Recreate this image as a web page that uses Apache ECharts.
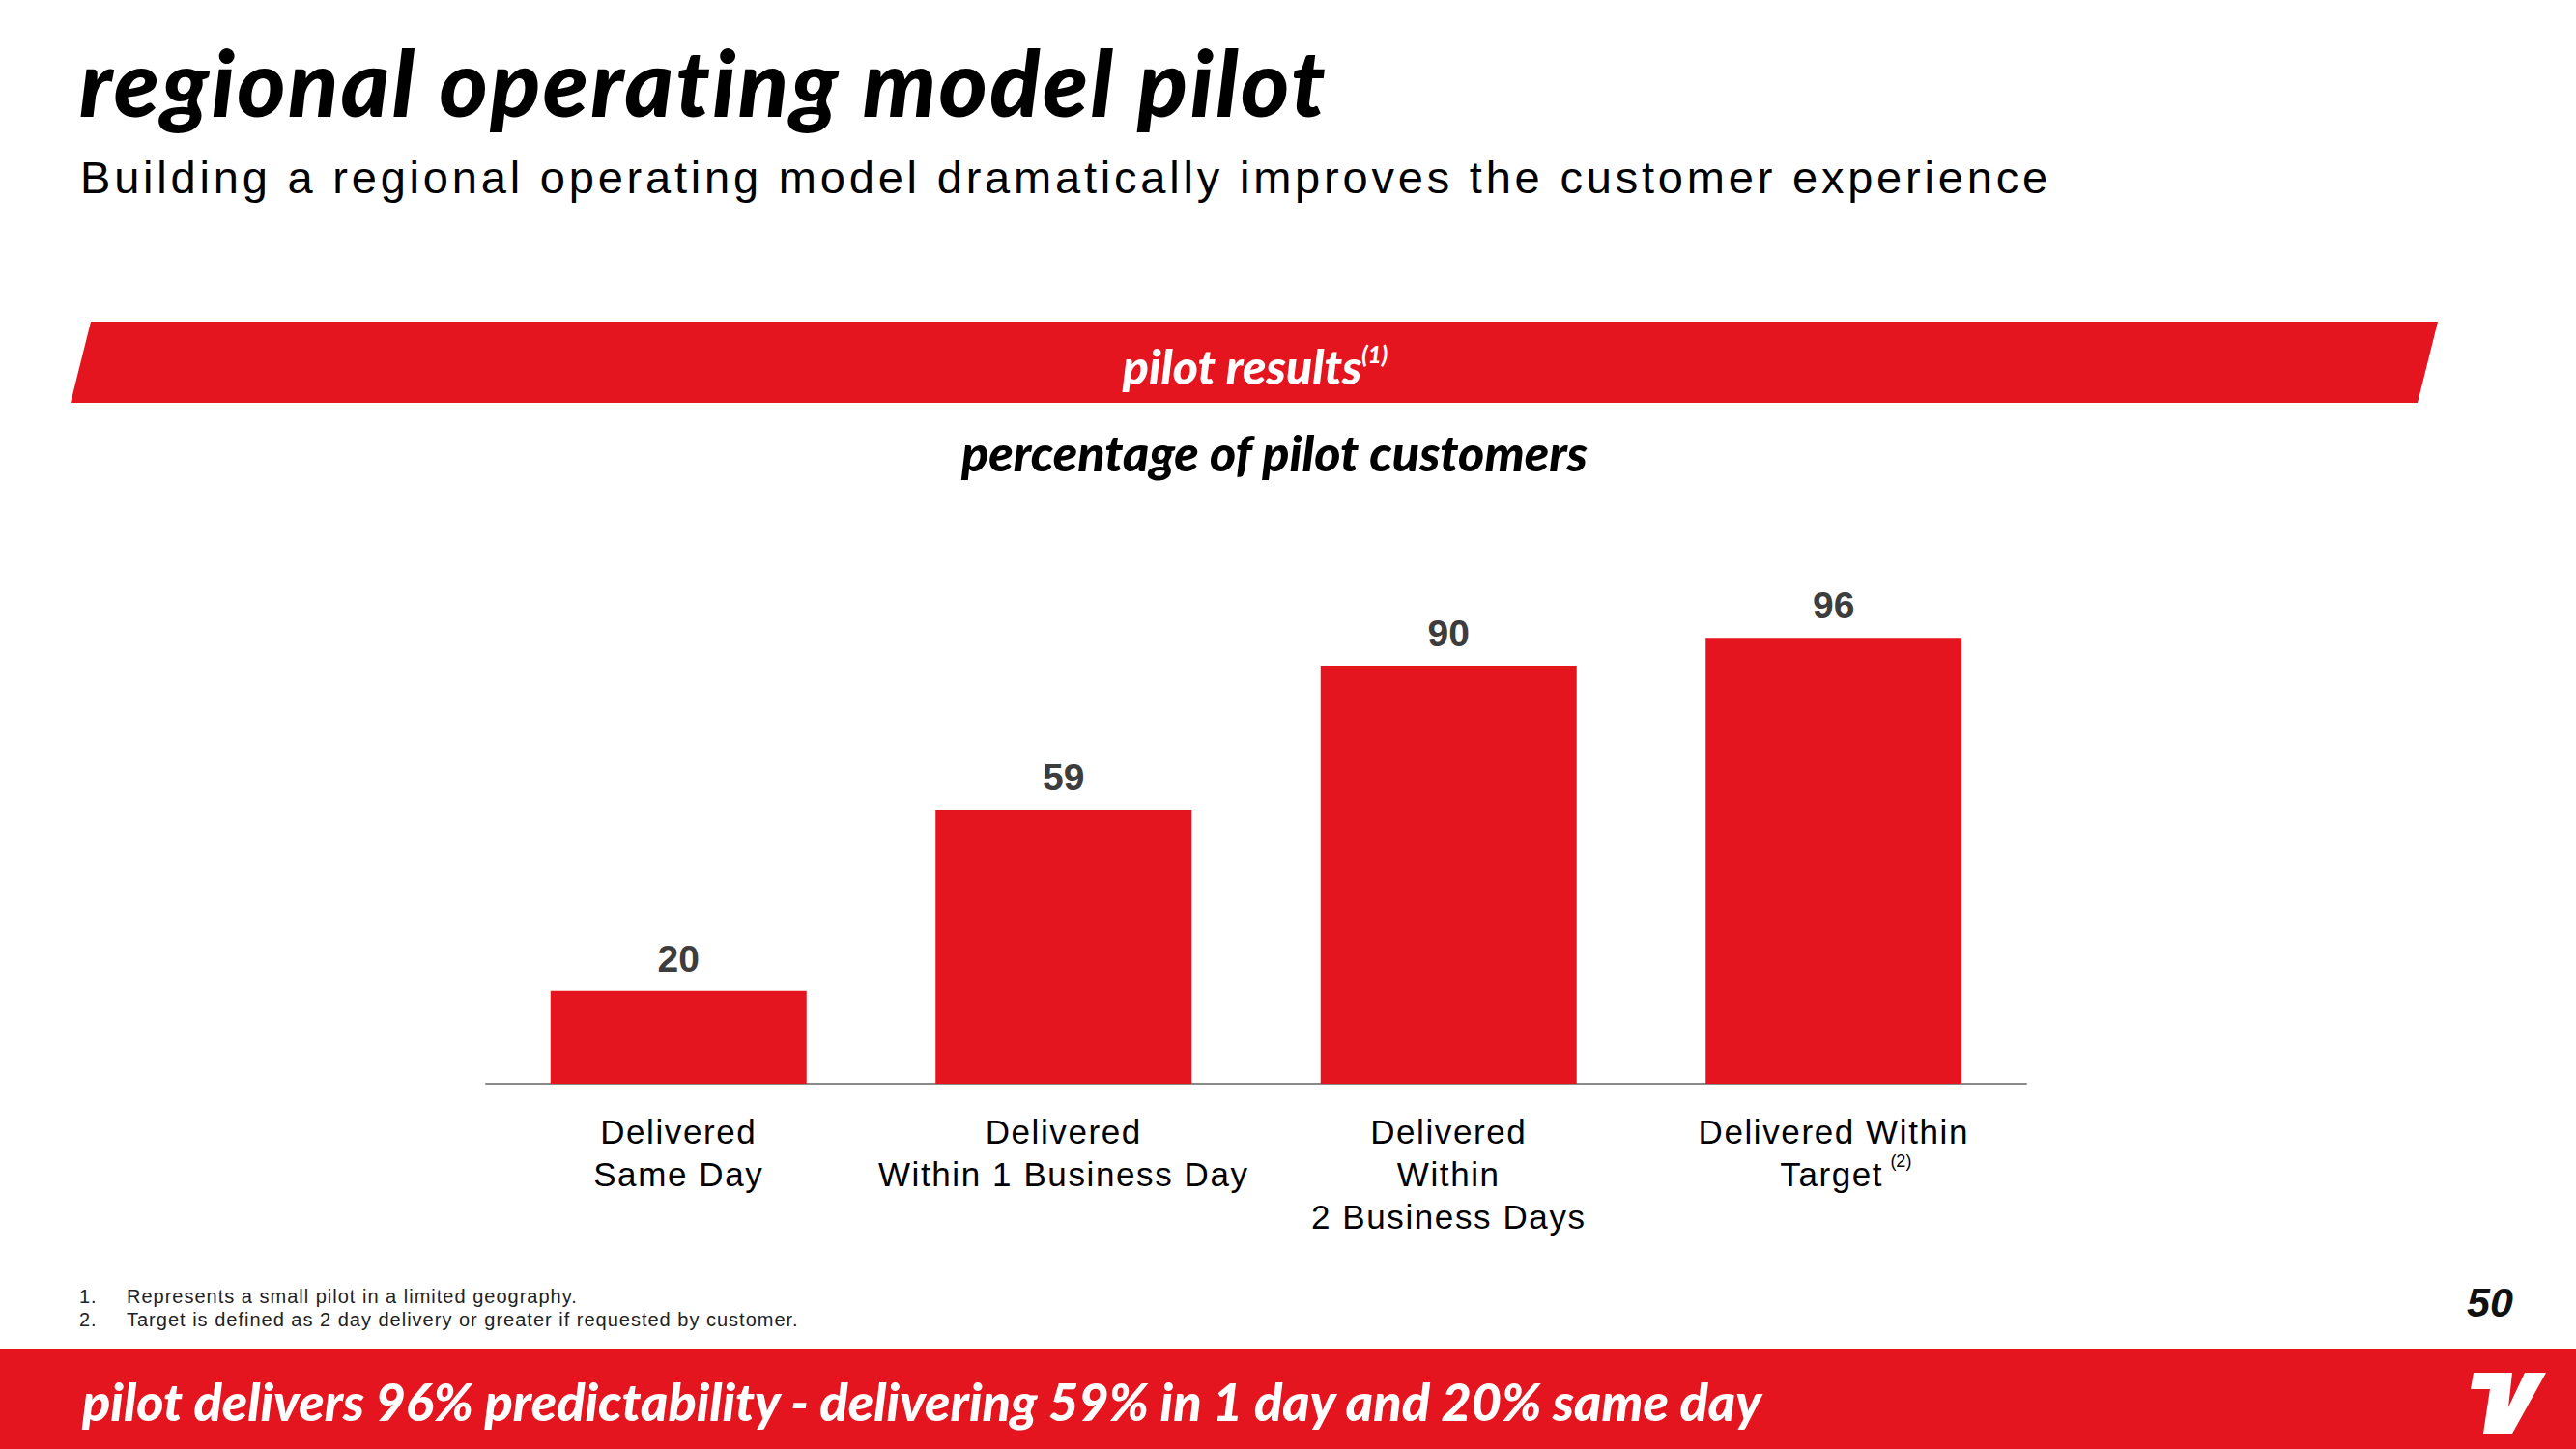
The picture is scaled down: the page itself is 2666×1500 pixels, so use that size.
<!DOCTYPE html>
<html><head><meta charset="utf-8">
<script src="https://cdn.jsdelivr.net/npm/echarts@6/dist/echarts.min.js"></script>
<style>
html,body{margin:0;padding:0;background:#fff}
#c{width:2666px;height:1500px}
#c text[style*="47px"]{letter-spacing:3.8px}
#c text[style*="35px"]{letter-spacing:1.6px}
#c text[style*="20px"]{letter-spacing:1px}
#c text[style*="96px"]{letter-spacing:2.4px}
</style>
</head><body><div id="c"></div>
<script>
const categories = ['Delivered\nSame Day', 'Delivered\nWithin 1 Business Day', 'Delivered\nWithin\n2 Business Days', 'Delivered Within\nTarget'];
const categoryNotes = ['', '', '', '(2)'];
const values = [20, 59, 90, 96];
const footnoteNumbers = ['1.', '2.'];
const footnotes = ['Represents a small pilot in a limited geography.', 'Target is defined as 2 day delivery or greater if requested by customer.'];
const titleText = 'regional operating model pilot';
const subtitleText = 'Building a regional operating model dramatically improves the customer experience';
const bannerText = 'pilot results';
const bannerNote = '(1)';
const chartTitleText = 'percentage of pilot customers';
const takeawayText = 'pilot delivers 96% predictability - delivering 59% in 1 day and 20% same day';
const pageNumber = '50';

const RED = '#e4151f';
const SANS = '"Liberation Sans",Arial,sans-serif';
const HEAVY = 'Lato,"Noto Sans",sans-serif';

function categoryLabel(v, i) {
  if (!categoryNotes[i]) return v;
  const lines = v.split('\n');
  const last = lines.pop();
  lines.push('{t|' + last + '}{sup|' + categoryNotes[i] + '}');
  return lines.join('\n');
}

const chart = echarts.init(document.getElementById('c'), null, {renderer: 'svg', width: 2666, height: 1500});
chart.setOption({
  backgroundColor: '#ffffff',
  animation: false,
  grid: {left: 503, right: 569, top: 641, bottom: 378, containLabel: false},
  xAxis: {
    type: 'category', data: categories,
    axisLine: {lineStyle: {color: '#8a8a8a', width: 2}},
    axisTick: {show: false},
    axisLabel: {
      interval: 0, margin: 27, color: '#000', fontFamily: SANS, fontSize: 35, lineHeight: 44,
      formatter: categoryLabel,
      rich: {
        t: {fontSize: 35, fontFamily: SANS, color: '#000', lineHeight: 44, padding: [0, 0, 0, 30]},
        sup: {fontSize: 18, fontFamily: SANS, color: '#000', verticalAlign: 'top', lineHeight: 18, padding: [0, 0, 0, 12]}
      }
    }
  },
  yAxis: {type: 'value', min: 0, max: 100, show: false, splitLine: {show: false}},
  series: [{
    type: 'bar', data: values, barCategoryGap: '33.5%',
    itemStyle: {color: RED},
    label: {show: true, position: 'top', distance: 14, color: '#3d3d3d', fontFamily: SANS, fontWeight: 'bold', fontSize: 39}
  }],
  graphic: [
    {type: 'text', x: 82, y: 83, z: 10, style: {text: titleText, fill: '#000', fontFamily: HEAVY, fontWeight: 900, fontStyle: 'italic', fontSize: 96, align: 'left', verticalAlign: 'middle'}},
    {type: 'text', x: 83, y: 183, z: 10, style: {text: subtitleText, fill: '#000', fontFamily: SANS, fontSize: 47, align: 'left', verticalAlign: 'middle'}},
    {type: 'polygon', z: 5, shape: {points: [[94, 333], [2523, 333], [2502, 417], [73, 417]]}, style: {fill: RED}},
    {type: 'text', x: 1299, y: 379, z: 10, style: {text: bannerText + '{sup|' + bannerNote + '}', fill: '#fff', fontFamily: HEAVY, fontWeight: 900, fontStyle: 'italic', fontSize: 50, lineHeight: 50, align: 'center', verticalAlign: 'middle',
      rich: {sup: {fill: '#fff', fontFamily: HEAVY, fontWeight: 900, fontStyle: 'italic', fontSize: 24, verticalAlign: 'top', lineHeight: 24}}}},
    {type: 'text', x: 1319, y: 468, z: 10, style: {text: chartTitleText, fill: '#000', fontFamily: HEAVY, fontWeight: 900, fontStyle: 'italic', fontSize: 52, align: 'center', verticalAlign: 'middle'}},
    {type: 'text', x: 82, y: 1342, z: 10, style: {text: footnoteNumbers[0], fill: '#222', fontFamily: SANS, fontSize: 20, verticalAlign: 'middle'}},
    {type: 'text', x: 131, y: 1342, z: 10, style: {text: footnotes[0], fill: '#222', fontFamily: SANS, fontSize: 20, verticalAlign: 'middle'}},
    {type: 'text', x: 82, y: 1366, z: 10, style: {text: footnoteNumbers[1], fill: '#222', fontFamily: SANS, fontSize: 20, verticalAlign: 'middle'}},
    {type: 'text', x: 131, y: 1366, z: 10, style: {text: footnotes[1], fill: '#222', fontFamily: SANS, fontSize: 20, verticalAlign: 'middle'}},
    {type: 'text', x: 2553, y: 1348, z: 10, style: {text: pageNumber, fill: '#111', fontFamily: SANS, fontWeight: 'bold', fontStyle: 'italic', fontSize: 43, verticalAlign: 'middle'}},
    {type: 'rect', z: 5, shape: {x: 0, y: 1396, width: 2666, height: 104}, style: {fill: RED}},
    {type: 'text', x: 85, y: 1450, z: 10, style: {text: takeawayText, fill: '#fff', fontFamily: HEAVY, fontWeight: 900, fontStyle: 'italic', fontSize: 54, align: 'left', verticalAlign: 'middle'}},
    {type: 'polygon', z: 10, shape: {points: [[2560, 1421], [2600, 1421], [2596, 1457], [2613, 1421], [2635, 1421], [2600, 1484], [2570, 1484], [2577, 1438], [2557, 1438]]}, style: {fill: '#fff'}}
  ]
});
</script></body></html>
